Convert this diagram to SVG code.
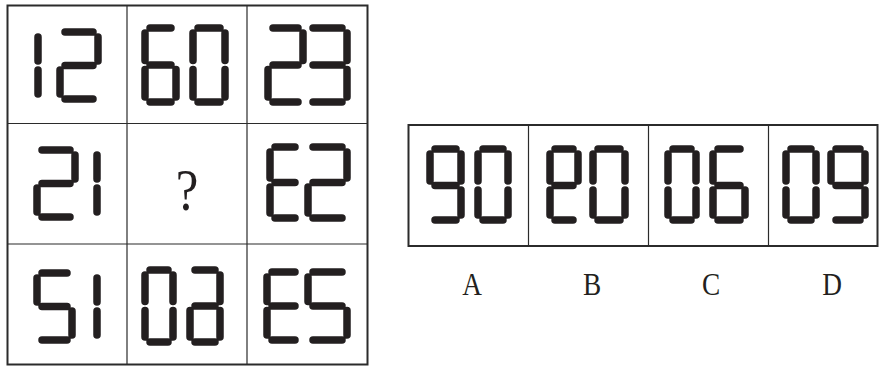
<svg xmlns="http://www.w3.org/2000/svg" width="879" height="367" viewBox="0 0 879 367">
<style>
.bg{fill:#fff}
.frame{fill:none;stroke:#2b2b2b;stroke-width:2}
.div{fill:none;stroke:#2b2b2b;stroke-width:1.2}
.seg{fill:none;stroke:#231f20;stroke-width:7.5;stroke-linecap:round;stroke-linejoin:round}
.lbl{font-family:"Liberation Serif","Times New Roman",serif;fill:#231f20;text-anchor:middle}
</style>
<rect class="bg" x="0" y="0" width="879" height="367"/>

<g id="grid">
<rect class="frame" x="7.5" y="5.5" width="360" height="359"/>
<line class="div" x1="127" y1="5.5" x2="127" y2="364.5"/>
<line class="div" x1="247" y1="5.5" x2="247" y2="364.5"/>
<line class="div" x1="7.5" y1="123.5" x2="367.5" y2="123.5"/>
<line class="div" x1="7.5" y1="244" x2="367.5" y2="244"/>
</g>

<g id="cell-12"><path class="seg" d="M38 37V61M38 70V94 M65 32H93M98 37V61M65 65.5H93M60 70V94M65 99H93"/></g>
<g id="cell-60"><path class="seg" d="M150 28H171M145 33V60.5M150 65H171M145 69.5V97M176 69.5V97M150 102H171 M198 28H220M225 33V60.5M225 69.5V97M198 102H220M193 69.5V97M193 33V60.5"/></g>
<g id="cell-23"><path class="seg" d="M273 28H298M303 33V60.5M273 65H298M268 69.5V97M273 102H298 M313 28H342M347 33V60.5M313 65H342M347 69.5V97M313 102H342"/></g>

<g id="cell-21"><path class="seg" d="M42 150H70M75 155V179M42 183.5H70M37 188V212M42 217H70 M97 155V179M97 188V212"/></g>
<g id="cell-q"><text class="lbl" transform="translate(187 210) scale(0.85 1)" x="0" y="0" font-size="60">?</text></g>
<g id="cell-E2"><path class="seg" d="M275 147H295M270 152V178M275 182.5H295M270 187V213M275 218H295 M313 147H342M347 152V178M313 182.5H342M308 187V213M313 218H342"/></g>

<g id="cell-51"><path class="seg" d="M42 273H67M37 278V302M42 306.5H67M72 311V335M42 340H67 M97 278V302M97 311V335"/></g>
<g id="cell-03"><path class="seg" d="M150 270H168M173 275V301.5M173 310.5V337M150 342H168M145 310.5V337M145 275V301.5 M195 270H215M220 275V301.5M220 310.5V337M195 306H215M190 310.5V337M195 342H215"/></g>
<g id="cell-E5"><path class="seg" d="M272 272H295M267 277V301.5M272 306H295M267 310.5V335M272 340H295 M313 272H342M308 277V301.5M313 306H342M347 310.5V335M313 340H342"/></g>

<g id="options">
<rect class="frame" x="408.5" y="125" width="469" height="121"/>
<line class="div" x1="528.5" y1="125" x2="528.5" y2="246"/>
<line class="div" x1="648.5" y1="125" x2="648.5" y2="246"/>
<line class="div" x1="768.5" y1="125" x2="768.5" y2="246"/>
</g>

<g id="opt-A"><path class="seg" d="M435 149H456M430 154V181M461 154V181M435 185.5H456M461 190V215M435 220H456 M483 149H503M508 154V181M508 190V215M483 220H503M478 190V215M478 154V181"/></g>
<g id="opt-B"><path class="seg" d="M555 149H573M550 154V181M578 154V181M555 185.5H573M550 190V215M555 220H573 M598 149H620M625 154V181M625 190V215M598 220H620M593 190V215M593 154V181"/></g>
<g id="opt-C"><path class="seg" d="M673 149H691M696 154V181M696 190V215M673 220H691M668 190V215M668 154V181 M718 149H740M713 154V181M718 185.5H740M713 190V215M745 190V215M718 220H740"/></g>
<g id="opt-D"><path class="seg" d="M791 149H811M816 154V181M816 190V215M791 220H811M786 190V215M786 154V181 M836 149H860M831 154V181M865 154V181M836 185.5H860M865 190V215M836 220H860"/></g>

<g id="labels">
<text class="lbl" transform="translate(472 295) scale(0.88 1)" font-size="31">A</text>
<text class="lbl" transform="translate(592 295) scale(0.88 1)" font-size="31">B</text>
<text class="lbl" transform="translate(711 295) scale(0.88 1)" font-size="31">C</text>
<text class="lbl" transform="translate(832 295) scale(0.88 1)" font-size="31">D</text>
</g>
</svg>
